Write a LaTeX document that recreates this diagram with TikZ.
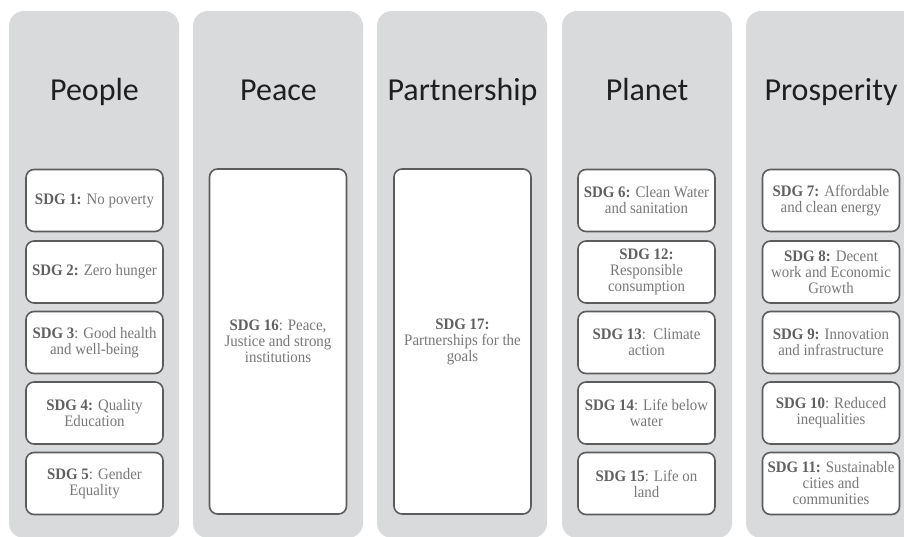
\documentclass[tikz,border=0pt]{standalone}
\usepackage{fontspec}
\setmainfont[FakeStretch=0.93]{Liberation Serif}
\newfontfamily\hdrfont{Carlito}
\definecolor{colgray}{HTML}{D9DADC}
\definecolor{boxline}{HTML}{5C5C5C}
\definecolor{txtgray}{HTML}{787878}
\definecolor{boldgray}{HTML}{606060}
\newcommand{\sdglab}[1]{\textcolor{boldgray}{\textbf{#1}}}
\begin{document}
\begin{tikzpicture}[x=1pt,y=-1pt,
  column/.style={fill=colgray,draw=none,rounded corners=15pt},
  hdr/.style={anchor=base,font=\hdrfont\fontsize{32}{36}\selectfont,text=black!88},
  sdg/.style={draw=boxline,line width=1.6pt,fill=white,rounded corners=8pt,
    minimum width=137pt,minimum height=62pt,align=center,inner sep=1pt,
    text=txtgray,font=\fontsize{16}{16}\selectfont},
  bigsdg/.style={sdg,minimum height=345pt}]
\useasboundingbox (0,0) rectangle (904,536);
\begin{scope}
\clip (0,0) rectangle (904,536);
\foreach \n/\x in {c1/9,c2/193,c3/377,c4/562,c5/746}{
  \path[column] (\x,11) rectangle ++(170,527);
}
\end{scope}
\node[hdr] (h1) at (94.5,100) {People};
\node[hdr] (h2) at (278.5,100) {Peace};
\node[hdr] (h3) at (462.5,100) {Partnership};
\node[hdr] (h4) at (647,100) {Planet};
\node[hdr] (h5) at (831,100) {Prosperity};
% People
\node[sdg] (s1) at (94.5,200.5) {\sdglab{SDG 1:} No poverty};
\node[sdg] (s2) at (94.5,272) {\sdglab{SDG 2:} Zero hunger};
\node[sdg] (s3) at (94.5,342.5) {\sdglab{SDG 3}: Good health\\ and well-being};
\node[sdg] (s4) at (94.5,413) {\sdglab{SDG 4:} Quality\\ Education};
\node[sdg] (s5) at (94.5,483.5) {\sdglab{SDG 5}: Gender\\ Equality};
% Peace
\node[bigsdg] (s16) at (278,341.5) {\sdglab{SDG 16}: Peace,\\ Justice and strong\\ institutions};
% Partnership
\node[bigsdg] (s17) at (462.5,341.5) {\sdglab{SDG 17:}\\ Partnerships for the\\ goals};
% Planet
\node[sdg] (s6) at (646.5,200.5) {\sdglab{SDG 6:} Clean Water\\ and sanitation};
\node[sdg] (s12) at (646.5,272) {\sdglab{SDG 12:}\\ Responsible\\ consumption};
\node[sdg] (s13) at (646.5,342.5) {\sdglab{SDG 13}:\ \ Climate\\ action};
\node[sdg] (s14) at (646.5,413) {\sdglab{SDG 14}: Life below\\ water};
\node[sdg] (s15) at (646.5,483.5) {\sdglab{SDG 15}: Life on\\ land};
% Prosperity
\node[sdg] (s7) at (831,200.5) {\sdglab{SDG 7:} Affordable\\ and clean energy};
\node[sdg] (s8) at (831,272) {\sdglab{SDG 8:} Decent\\ work and Economic\\ Growth};
\node[sdg] (s9) at (831,342.5) {\sdglab{SDG 9:} Innovation\\ and infrastructure};
\node[sdg] (s10) at (831,413) {\sdglab{SDG 10}: Reduced\\ inequalities};
\node[sdg] (s11) at (831,483.5) {\sdglab{SDG 11:} Sustainable\\ cities and\\ communities};
\end{tikzpicture}
\end{document}
